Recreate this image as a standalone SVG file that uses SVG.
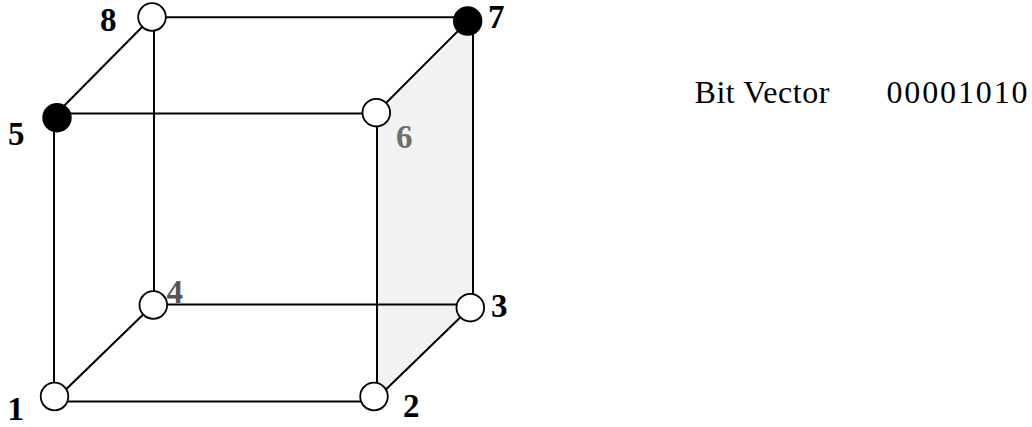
<svg xmlns="http://www.w3.org/2000/svg" width="1032" height="427" viewBox="0 0 1032 427">
<style>
.e{stroke:#000;stroke-width:2;fill:none}
.o{fill:#fff;stroke:#000;stroke-width:1.8}
.f{fill:#000;stroke:#000;stroke-width:1.8}
.n{font-family:"Liberation Serif",serif;font-weight:700;font-size:33px;fill:#000}
.g{fill:#6e6e6e}
.h{fill:#555}
.t{font-family:"Liberation Serif",serif;font-size:32px;fill:#000}
</style>
<rect width="1032" height="427" fill="#fff"/>
<polygon points="377,113 473,21 473,304 377,398" fill="#f2f2f2"/>
<g id="connectors">
<line class="e" x1="54" y1="118" x2="54" y2="397"/>
<line class="e" x1="154" y1="17" x2="154" y2="305"/>
<line class="e" x1="377" y1="113" x2="377" y2="397"/>
<line class="e" x1="473" y1="21" x2="473" y2="308"/>
<line class="e" x1="152" y1="17.300" x2="468" y2="17.300"/>
<line class="e" x1="57" y1="113.500" x2="376" y2="113.500"/>
<line class="e" x1="153" y1="304.500" x2="470" y2="304.500"/>
<line class="e" x1="54" y1="401.500" x2="374" y2="401.500"/>
<line class="e" x1="152" y1="17" x2="57" y2="113"/>
<line class="e" x1="468" y1="21" x2="376" y2="113"/>
<line class="e" x1="470" y1="308" x2="374" y2="401"/>
<line class="e" x1="153" y1="305" x2="54" y2="401"/>
</g>
<g id="node-1"><circle class="o" cx="54.500" cy="396.500" r="13.800"/><text class="n" x="7.500" y="420">1</text></g>
<g id="node-2"><circle class="o" cx="374" cy="396.500" r="13.800"/><text class="n" x="403" y="417">2</text></g>
<g id="node-3"><circle class="o" cx="470.300" cy="307.700" r="13.800"/><text class="n" x="491" y="317">3</text></g>
<g id="node-4"><circle class="o" cx="153.300" cy="305" r="13.800"/><text class="n h" x="166.500" y="302.500">4</text></g>
<g id="node-5"><circle class="f" cx="57" cy="117.700" r="13.800"/><text class="n" x="8" y="145">5</text></g>
<g id="node-6"><circle class="o" cx="376.300" cy="112.700" r="13.800"/><text class="n g" x="396" y="147.500">6</text></g>
<g id="node-7"><circle class="f" cx="467.700" cy="21" r="13.800"/><text class="n" x="488" y="28">7</text></g>
<g id="node-8"><circle class="o" cx="152" cy="17" r="13.800"/><text class="n" x="100" y="31">8</text></g>
<text class="t" x="694.500" y="103.300" textLength="135">Bit Vector</text>
<text class="t" x="886.500" y="103.300" textLength="141">00001010</text>
</svg>
